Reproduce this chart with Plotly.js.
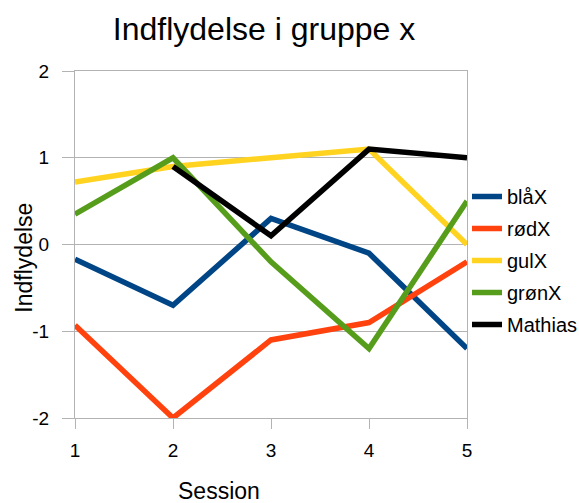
<!DOCTYPE html>
<html>
<head>
<meta charset="utf-8">
<script src="https://cdn.plot.ly/plotly-3.0.1.min.js"></script>
<style>html,body{margin:0;padding:0;background:#fff;}#chart{width:579px;height:503px;}</style>
</head>
<body>
<div id="chart"></div>
<script>
var sessions = [1, 2, 3, 4, 5];
var yTickVals = [-2, -1, 0, 1, 2];
var yTickText = ["-2", "-1", "0", "1", "2"];
var seriesNames = ["blåX", "rødX", "gulX", "grønX", "Mathias"];
var blaaX = [-0.17, -0.7, 0.3, -0.1, -1.2];
var roedX = [-0.93, -2.0, -1.1, -0.9, -0.2];
var gulX = [0.72, 0.9, 1.0, 1.1, 0.0];
var groenX = [0.35, 1.0, -0.2, -1.2, 0.5];
var mathias = [null, 0.9, 0.1, 1.1, 1.0];
var seriesColors = ["#004586", "#ff420e", "#ffd320", "#579d1c", "#000000"];
var allValues = [blaaX, roedX, gulX, groenX, mathias];

var traces = allValues.map(function (vals, i) {
  return {
    x: sessions,
    y: vals,
    name: seriesNames[i],
    type: "scatter",
    mode: "lines",
    legendgroup: "g" + i,
    line: { color: seriesColors[i], width: 5.5 },
    connectgaps: false
  };
});

var font = "Liberation Sans, Arial, sans-serif";
var layout = {
  width: 579,
  height: 503,
  paper_bgcolor: "#ffffff",
  plot_bgcolor: "#ffffff",
  margin: { l: 75, r: 111, t: 71, b: 85 },
  font: { family: font, color: "#000000" },
  title: {
    text: "Indflydelse i gruppe x",
    font: { family: font, size: 32, color: "#000000" },
    x: 0.456, xref: "container", xanchor: "center",
    y: 0.942, yref: "container", yanchor: "middle"
  },
  xaxis: {
    range: [1, 5],
    tickvals: sessions,
    ticktext: sessions.map(String),
    showgrid: false,
    zeroline: false,
    showline: true,
    linecolor: "#b3b3b3",
    linewidth: 1,
    mirror: true,
    ticks: "outside",
    ticklen: 10,
    tickcolor: "#b3b3b3",
    ticklabelstandoff: 5,
    tickfont: { family: font, size: 19, color: "#000000" }
  },
  yaxis: {
    range: [-2, 2],
    tickvals: yTickVals,
    ticktext: yTickText,
    showgrid: true,
    gridcolor: "#b3b3b3",
    gridwidth: 1,
    zeroline: true,
    zerolinecolor: "#b3b3b3",
    zerolinewidth: 1,
    showline: true,
    linecolor: "#b3b3b3",
    linewidth: 1,
    mirror: true,
    ticks: "outside",
    ticklen: 12,
    tickcolor: "#b3b3b3",
    ticklabelstandoff: 9,
    tickfont: { family: font, size: 19, color: "#000000" }
  },
  showlegend: true,
  legend: {
    x: 467 / 579, xref: "container", xanchor: "left",
    y: 1 - 177 / 503, yref: "container", yanchor: "top",
    itemwidth: 30,
    tracegroupgap: 3,
    font: { family: font, size: 20, color: "#000000" },
    bgcolor: "rgba(0,0,0,0)",
    borderwidth: 0
  },
  annotations: [
    {
      text: "Session", xref: "paper", yref: "paper",
      x: (219 - 75) / 393, y: (418 - 491) / 347,
      xanchor: "center", yanchor: "middle", showarrow: false,
      font: { family: font, size: 23, color: "#000000" }
    },
    {
      text: "Indflydelse", xref: "paper", yref: "paper",
      x: (23 - 75) / 393, y: (418 - 257.5) / 347,
      xanchor: "center", yanchor: "middle", showarrow: false, textangle: -90,
      font: { family: font, size: 23, color: "#000000" }
    }
  ]
};

Plotly.newPlot("chart", traces, layout, { displayModeBar: false, staticPlot: true });
</script>
</body>
</html>
